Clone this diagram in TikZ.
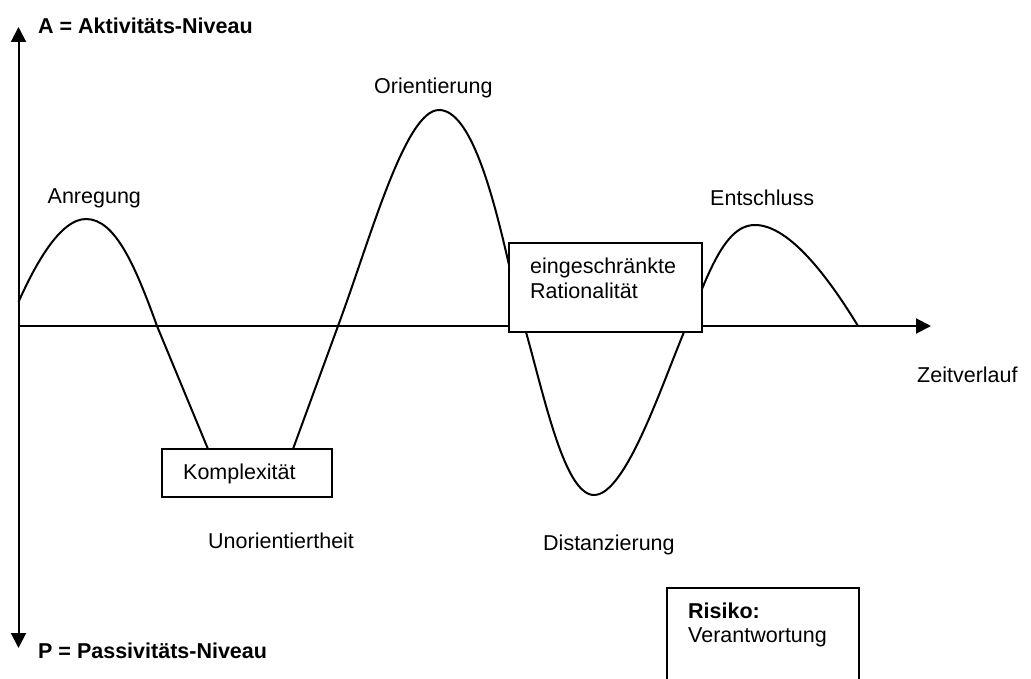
\documentclass[tikz,border=0pt]{standalone}
\usepackage{fontspec}
\setmainfont{Liberation Sans}
\usetikzlibrary{arrows.meta}
\tikzset{
  lbl/.style={anchor=base west, inner sep=0pt, font=\fontsize{21.5}{25}\selectfont},
  blbl/.style={lbl, font=\fontsize{21.5}{25}\selectfont\bfseries},
  boxed/.style={draw, fill=white, line width=2pt, inner sep=0pt},
  axis/.style={line width=2pt, {Triangle[length=15pt,width=15pt]}-{Triangle[length=15pt,width=15pt]}},
  haxis/.style={line width=2pt, -{Triangle[length=15pt,width=15pt]}},
  wave/.style={line width=2pt, line join=round}
}
\begin{document}
\begin{tikzpicture}[x=1pt,y=-1pt]
\useasboundingbox (0,0) rectangle (1031,679);
% axes
\coordinate (atop) at (18.5,27);
\coordinate (abot) at (18.5,648);
\coordinate (origin) at (17.5,326);
\coordinate (tend) at (931,326);
\draw[axis] (abot) -- (atop);
\draw[haxis] (origin) -- (tend);
% curve
\draw[wave] (18.5,302)
  .. controls (35,265) and (60,219) .. (86,219)
  .. controls (115,219) and (135,265) .. (157,326)
  -- (208,449)
  .. controls (222,485) and (280,485) .. (293,449)
  -- (338,326)
  .. controls (370,240) and (405,110) .. (439,110)
  .. controls (470,110) and (492,190) .. (509,265)
  -- (526,332)
  .. controls (545,400) and (565,495) .. (594,495)
  .. controls (625,495) and (660,390) .. (684,332)
  -- (702,289)
  .. controls (720,245) and (735,225) .. (755,225)
  .. controls (790,225) and (830,280) .. (858,326);
% boxes
\node[boxed, minimum width=170pt, minimum height=48pt] (kompl) at (247,473) {};
\node[lbl] (komplt) at (183,479) {Komplexität};
\node[boxed, minimum width=193pt, minimum height=89pt] (rat) at (605.5,287.5) {};
\node[anchor=north west, inner sep=0pt, align=left, font=\fontsize{21.5}{25}\selectfont] (ratt) at (530,257.5) {eingeschränkte\\Rationalität};
\node[boxed, minimum width=192pt, minimum height=100pt] (risk) at (763,638) {};
\node[blbl] (riskt) at (688,618) {Risiko:};
\node[lbl] (verant) at (688,642) {Verantwortung};
% labels
\node[blbl] (alabel) at (38,34) {A = Aktivitäts-Niveau};
\node[blbl] (plabel) at (38,658) {P = Passivitäts-Niveau};
\node[lbl] (anr) at (47.5,204) {Anregung};
\node[lbl] (ori) at (374,94) {Orientierung};
\node[lbl] (ent) at (710,206) {Entschluss};
\node[lbl] (zeit) at (917,382) {Zeitverlauf};
\node[lbl] (unor) at (208,548) {Unorientiertheit};
\node[lbl] (dist) at (543,550) {Distanzierung};
\end{tikzpicture}
\end{document}
